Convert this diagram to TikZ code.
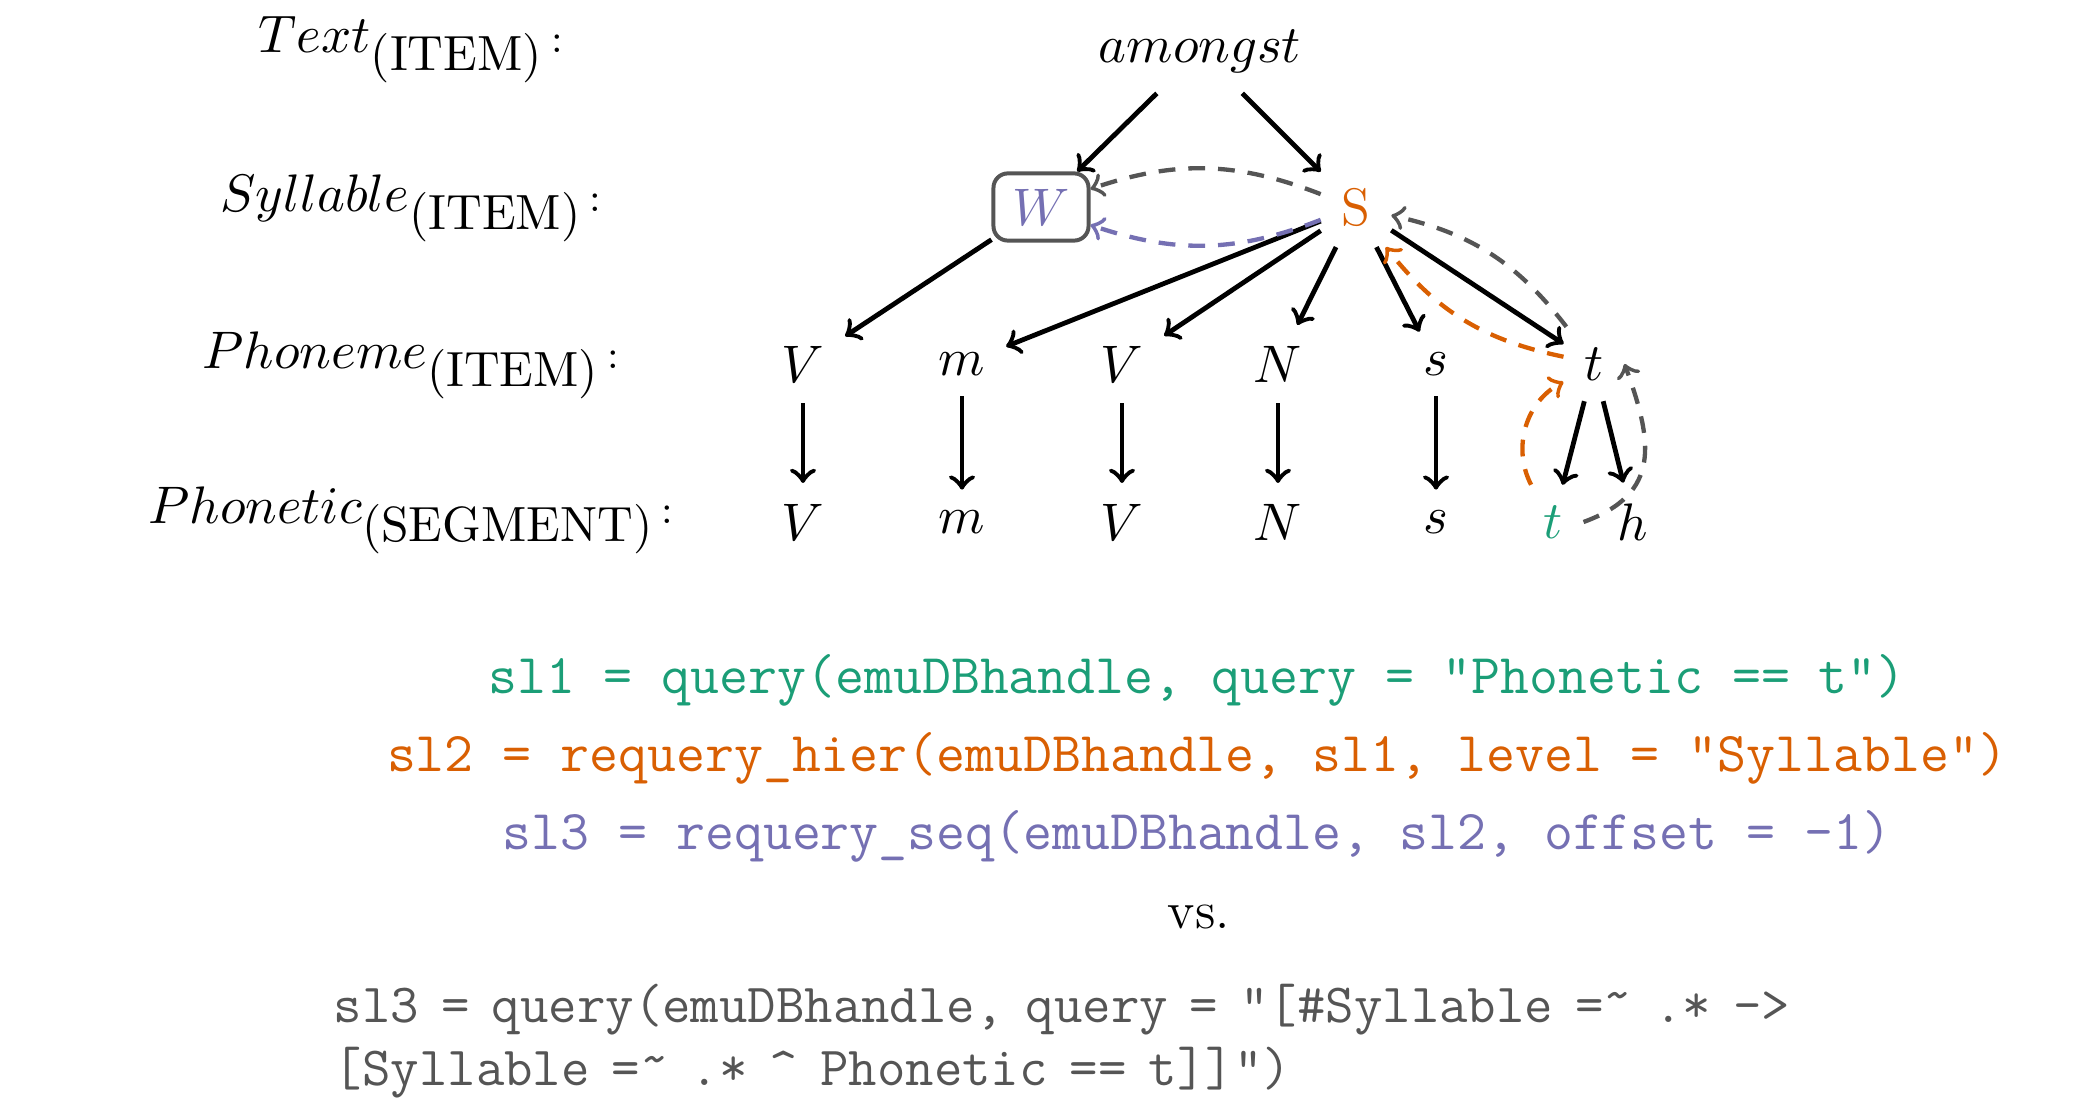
\RequirePackage{fix-cm}
\documentclass[tikz,border=0pt]{standalone}
\definecolor{cgreen}{HTML}{1B9E77}
\definecolor{corange}{HTML}{D95F02}
\definecolor{cpurple}{HTML}{7570B3}
\definecolor{cgray}{HTML}{555555}
\begin{document}
\begin{tikzpicture}[x=0.2083pt,y=-0.2083pt,
  lab/.style={anchor=base,inner sep=0pt,font=\fontsize{11}{13}\selectfont},
  tn/.style={inner sep=4.17pt,font=\fontsize{11}{13}\selectfont},
  wbox/.style={draw=cgray,line width=0.83pt,rounded corners=3pt,inner sep=0pt,
    minimum width=19.8pt,minimum height=14pt,font=\fontsize{11}{13}\selectfont},
  arr/.style={->,line width=1pt,black},
  dsh/.style={->,line width=0.9pt,dash pattern=on 3.5pt off 2.7pt},
  gdash/.style={dsh,cgray},
  odash/.style={dsh,corange},
  pdash/.style={dsh,cpurple},
  code/.style={anchor=base,inner sep=0pt,font=\fontsize{11.7}{14}\ttfamily},
  code2/.style={anchor=base west,inner sep=0pt,text=cgray,font=\fontsize{11.5}{14}\ttfamily},
]
\useasboundingbox (0,0) rectangle (2081,1116);

% level labels
\newcommand{\sub}[1]{\raisebox{-3.7pt}{\fontsize{10.3}{12}\selectfont(#1)}\kern2pt{\fontsize{8.5}{10}\selectfont:}}
\newcommand{\tld}{\raisebox{0.18em}{\~{}}}
\node[lab] (l1) at (411,53)  {$Text$\sub{ITEM}};
\node[lab] (l2) at (411,212) {$Syllable$\sub{ITEM}};
\node[lab] (l3) at (411,369) {$Phoneme$\sub{ITEM}};
\node[lab] (l4) at (411,524) {$Phonetic$\sub{SEGMENT}};

% tree nodes
\node[tn] (am) at (1200,51) {$amongst$};
\node[wbox,text=cpurple] (W) at (1041,207) {$W$};
\node[tn,text=corange] (S) at (1356,207) {S};

\node[tn] (p1) at (803,364)  {$V$};
\node[tn] (p2) at (962,364)  {$m$};
\node[tn] (p3) at (1122,364) {$V$};
\node[tn] (p4) at (1278,364) {$N$};
\node[tn] (p5) at (1436,364) {$s$};
\node[tn] (p6) at (1594,364) {$t$};

\node[tn] (q1) at (803,522)  {$V$};
\node[tn] (q2) at (962,522)  {$m$};
\node[tn] (q3) at (1122,522) {$V$};
\node[tn] (q4) at (1278,522) {$N$};
\node[tn] (q5) at (1436,522) {$s$};
\node[tn,text=cgreen] (q6) at (1553,522) {$t$};
\node[tn] (q7) at (1633,522) {$h$};

% hierarchy edges
\draw[arr] (am) -- (W);
\draw[arr] (am) -- (S);
\draw[arr] (W) -- (p1);
\foreach \n in {p2,p3,p4,p5,p6} \draw[arr] (S) -- (\n);
\draw[arr] (p1) -- (q1);
\draw[arr] (p2) -- (q2);
\draw[arr] (p3) -- (q3);
\draw[arr] (p4) -- (q4);
\draw[arr] (p5) -- (q5);
\draw[arr] (p6) -- (q6);
\draw[arr] (p6) -- (q7);

% query paths
\draw[gdash] (S) to[bend right=20] (W);
\draw[pdash] (S) to[bend left=20] (W);
\draw[gdash] (p6) to[bend right=20] (S);
\draw[odash] (p6) to[bend left=20] (S);
\draw[odash] (q6) to[bend left=45] (p6);
\draw[gdash] (q6.east) to[out=20,in=-70,looseness=1.3] (p6.east);

% code
\node[code,text=cgreen]  (c1) at (1197,694) {sl1 = query(emuDBhandle, query = "Phonetic == t")};
\node[code,text=corange] (c2) at (1197,772) {sl2 = requery\_hier(emuDBhandle, sl1, level = "Syllable")};
\node[code,text=cpurple] (c3) at (1197,850) {sl3 = requery\_seq(emuDBhandle, sl2, offset = -1)};
\node[lab,font=\fontsize{11}{13}\selectfont] (vs) at (1199,928) {vs.};
\node[code2] (d1) at (333,1022) {\spaceskip=0.4em sl3 = query(emuDBhandle, query = "[\#Syllable =\tld{} .* ->};
\node[code2] (d2) at (333,1086) {\spaceskip=0.4em [Syllable =\tld{} .* \^{} Phonetic == t]]")};
\end{tikzpicture}
\end{document}
